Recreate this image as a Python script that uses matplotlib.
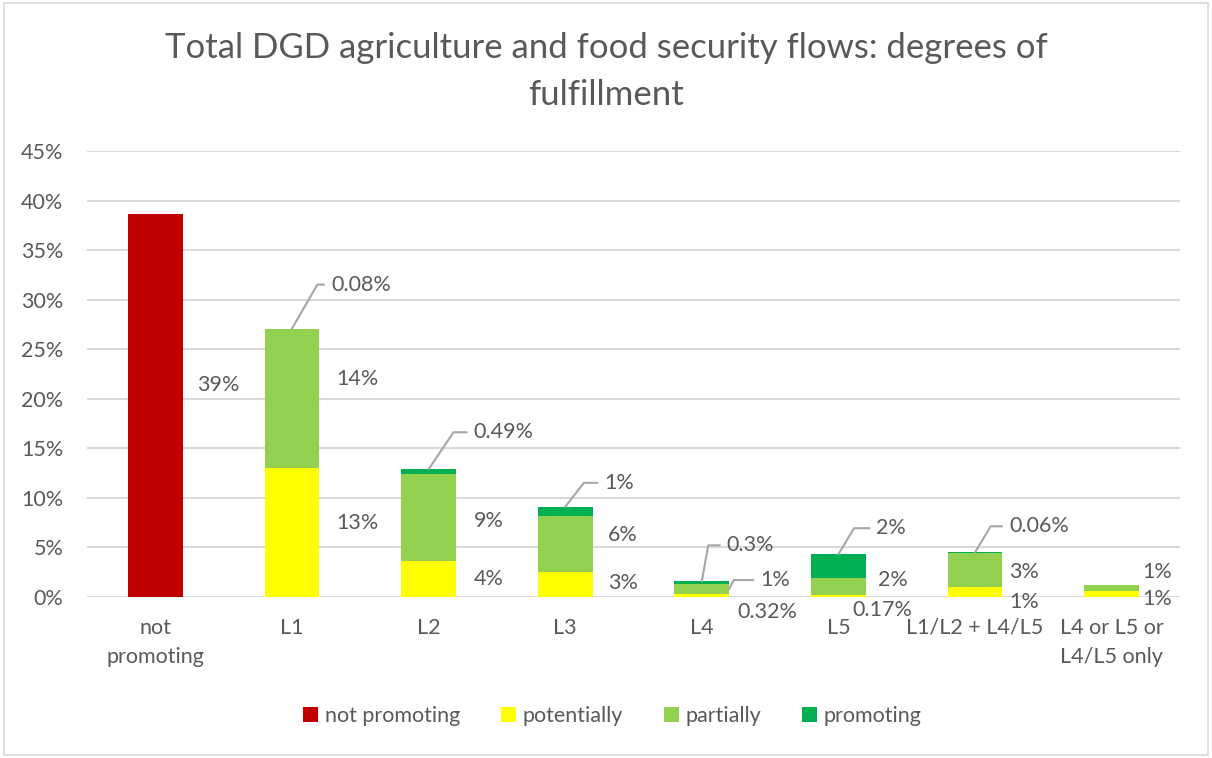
import matplotlib
matplotlib.use("Agg")
import matplotlib.pyplot as plt
from matplotlib.patches import Rectangle
import numpy as np

plt.rcParams['font.family'] = ['Lato', 'DejaVu Sans']

categories = ["not\npromoting", "L1", "L2", "L3", "L4", "L5",
              "L1/L2 + L4/L5", "L4 or L5 or\nL4/L5 only"]
not_promoting = [38.6, 0, 0, 0, 0, 0, 0, 0]
potentially = [0, 13.05, 3.6, 2.55, 0.32, 0.17, 1.0, 0.6]
partially = [0, 13.95, 8.8, 5.65, 0.96, 1.75, 3.45, 0.65]
promoting = [0, 0.08, 0.49, 0.9, 0.3, 2.4, 0.06, 0]

series = [("not promoting", not_promoting, "#C00000"),
          ("potentially", potentially, "#FFFF00"),
          ("partially", partially, "#92D050"),
          ("promoting", promoting, "#00B050")]

# decimals shown on the small labels, everything else is whole percent
decimals = {("promoting", 1): 2, ("promoting", 2): 2, ("promoting", 4): 1,
            ("potentially", 4): 2, ("potentially", 5): 2, ("promoting", 6): 2}

# label offsets in pixels from the segment middle: (dx, dy)
offsets = {("not promoting", 0): (42, 21),
           ("potentially", 1): (44, 9), ("partially", 1): (44, 20),
           ("potentially", 2): (45, 0), ("partially", 2): (45, -3),
           ("potentially", 3): (43, 1), ("partially", 3): (43, 9),
           ("potentially", 4): (36, -17),
           ("potentially", 5): (14, -14), ("partially", 5): (40, 7),
           ("potentially", 6): (34, -10), ("partially", 6): (34, -2),
           ("potentially", 7): (31, -5), ("partially", 7): (31, 16)}

# labels with a leader line: (dx, dy, angle) from the segment top
leaders = {("promoting", 1): (39, 44, 60), ("promoting", 2): (45, 37, 56),
           ("promoting", 3): (39, 24, 52), ("promoting", 4): (25, 36, 80),
           ("promoting", 5): (38, 26, 59), ("promoting", 6): (34, 26, 59)}

grey = "#595959"
width = 0.4
fs = 15.5

fig = plt.figure(figsize=(12.12, 7.58), dpi=100)
ax = fig.add_axes([0.0718, 0.2124, 0.9018, 0.5884])
x = np.arange(len(categories))

line_kw = dict(arrowstyle="-", color="#A6A6A6", lw=1.5, shrinkA=3, shrinkB=0)

bottom = np.zeros(len(categories))
for name, vals, col in series:
    vals = np.array(vals, dtype=float)
    ax.bar(x, vals, width, bottom=bottom, color=col, label=name, zorder=3)
    for i, v in enumerate(vals):
        if v <= 0:
            continue
        txt = f"{v:.{decimals.get((name, i), 0)}f}%"
        key = (name, i)
        if key in leaders:
            dx, dy, ang = leaders[key]
            ax.annotate(txt, xy=(i, bottom[i] + v), xytext=(dx, dy),
                        textcoords="offset pixels", ha="left", va="center",
                        fontsize=fs, color=grey,
                        arrowprops=dict(line_kw, connectionstyle=f"angle,angleA=0,angleB={ang},rad=0"))
        elif key == ("partially", 4):
            ax.annotate(txt, xy=(i + width / 2, bottom[i] + v / 2), xytext=(31, 9),
                        textcoords="offset pixels", ha="left", va="center",
                        fontsize=fs, color=grey,
                        arrowprops=dict(line_kw, connectionstyle="angle,angleA=0,angleB=63,rad=0"))
        else:
            dx, dy = offsets[key]
            ax.annotate(txt, xy=(i, bottom[i] + v / 2), xytext=(dx, dy),
                        textcoords="offset pixels", ha="left", va="center",
                        fontsize=fs, color=grey)
    bottom += vals

ax.set_xlim(-0.5, len(categories) - 0.5)
ax.set_ylim(0, 45)
ax.set_yticks(np.arange(0, 46, 5))
ax.set_yticklabels([f"{t}%" for t in range(0, 46, 5)])
ax.set_xticks(x)
ax.set_xticklabels(categories, linespacing=1.6)
ax.tick_params(axis="both", length=0, labelsize=fs, labelcolor=grey)
ax.tick_params(axis="y", pad=17)
ax.tick_params(axis="x", pad=15)
ax.grid(axis="y", color="#D9D9D9", lw=1.5, zorder=0)
for s in ax.spines.values():
    s.set_visible(False)

fig.suptitle("Total DGD agriculture and food security flows: degrees of\nfulfillment",
             x=0.5, y=0.958, fontsize=25, color=grey, linespacing=1.6, va="top")

fig.legend(loc="center", bbox_to_anchor=(0.505, 0.055), ncol=4, frameon=False,
           fontsize=fs, labelcolor=grey, handlelength=0.7, handleheight=0.7,
           handletextpad=0.3, columnspacing=1.9)

fig.patches.append(Rectangle((0.003, 0.004), 0.994, 0.992, transform=fig.transFigure,
                             fill=False, edgecolor="#D9D9D9", lw=1.2))

fig.savefig("out.png", dpi=100)
